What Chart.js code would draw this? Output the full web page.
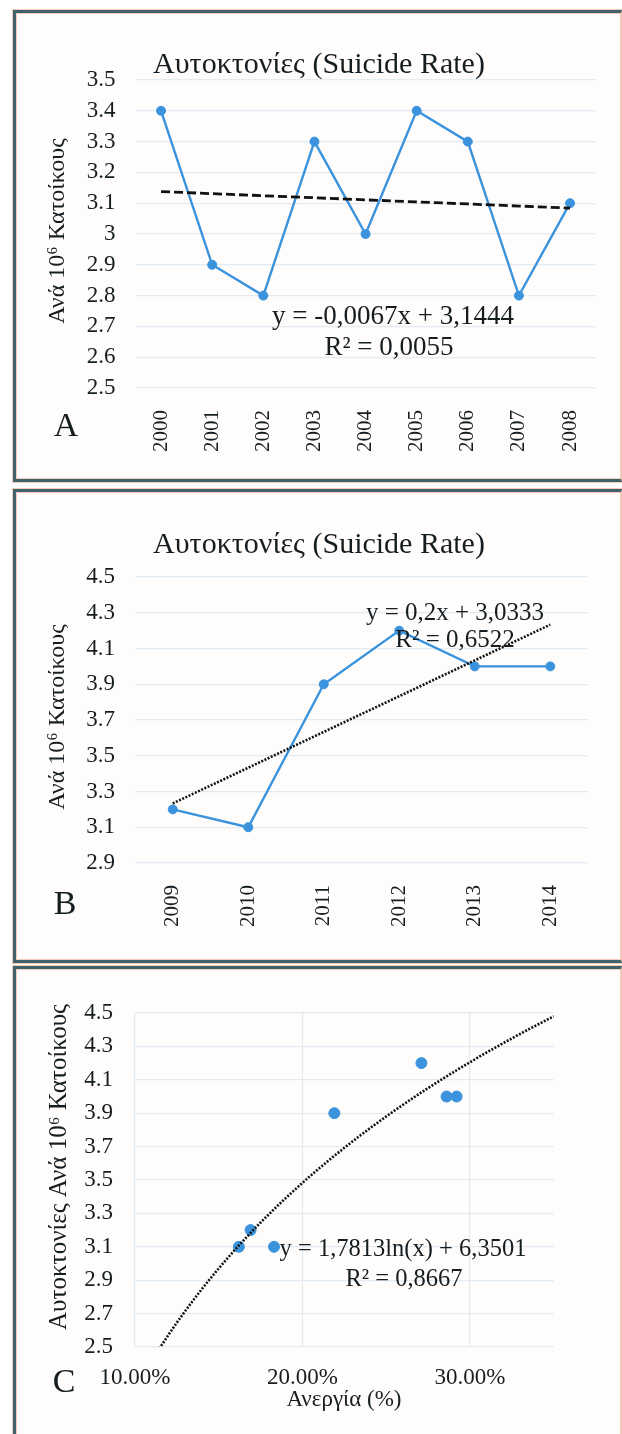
<!DOCTYPE html>
<html>
<head>
<meta charset="utf-8">
<script src="https://cdn.jsdelivr.net/npm/chart.js@4.4.1/dist/chart.umd.min.js"></script>
<style>
  body { margin: 0; background: #fff; }
  #page { position: relative; width: 622px; height: 1434px; overflow: hidden; }
  .frame {
    position: absolute; left: 13px; width: 609px; box-sizing: border-box;
    border: 3px solid #40626d; border-right: 1px solid #f1c7b6;
    background: #fffdfc;
    box-shadow: 0 0 0 1px #f4cbbb, inset 0 0 0 1px #f4cbbb;
  }
  canvas { position: absolute; left: 0; }
</style>
</head>
<body>
<div id="page">
  <div class="frame" style="top:10px;height:472px"></div>
  <div class="frame" style="top:489px;height:474px"></div>
  <div class="frame" style="top:966px;height:480px"></div>
  <canvas id="chartA" width="622" height="482" style="top:0"></canvas>
  <canvas id="chartB" width="622" height="480" style="top:482px"></canvas>
  <canvas id="chartC" width="622" height="472" style="top:962px"></canvas>
</div>
<script>
// suicide rate per 10^6 inhabitants, 2000-2008
const yearsA = ["2000", "2001", "2002", "2003", "2004", "2005", "2006", "2007", "2008"];
const rateA = [3.4, 2.9, 2.8, 3.3, 3.0, 3.4, 3.3, 2.8, 3.1];
const fitA = [-0.0067, 3.1444]; // slope, intercept

// 2009-2014
const yearsB = ["2009", "2010", "2011", "2012", "2013", "2014"];
const rateB = [3.2, 3.1, 3.9, 4.2, 4.0, 4.0];
const fitB = [0.2, 3.0333];

// suicide rate against unemployment
const unemploymentC = [0.162, 0.169, 0.183, 0.219, 0.271, 0.286, 0.292];
const rateC = [3.1, 3.2, 3.1, 3.9, 4.2, 4.0, 4.0];
const fitC = [1.7813, 6.3501]; // y = a*ln(x) + b
const fitRangeC = [0.11, 0.35];

const SERIF = "'Liberation Serif', 'Times New Roman', serif";
const INK = "#161d20";
const BLUE = "#3a93dc";
const GRID = "#e3ebf2";

Chart.defaults.font.family = SERIF;
Chart.defaults.color = INK;
Chart.defaults.animation = false;

// text drawn on top of the plot: titles, equations, panel letters
const notes = {
  id: "notes",
  afterDatasetsDraw(chart, args, opts) {
    const ctx = chart.ctx;
    for (const t of opts.items) {
      ctx.save();
      ctx.fillStyle = INK;
      ctx.font = t.size + "px " + SERIF;
      ctx.textAlign = "center";
      ctx.textBaseline = "middle";
      ctx.translate(t.x, t.y);
      if (t.rotate) ctx.rotate(-Math.PI / 2);
      ctx.fillText(t.text, 0, 0);
      ctx.restore();
    }
  }
};

function fixWidth(w) { return s => { s.width = w; }; }
function fixHeight(h) { return s => { s.height = h; }; }
const oneDecimal = v => String(+v.toFixed(1));

function lineChart(id, years, rates, fit, dash, yMin, yMax, step, pad, items) {
  const trend = years.map((_, i) => fit[0] * (i + 1) + fit[1]);
  return new Chart(document.getElementById(id), {
    type: "line",
    data: {
      labels: years,
      datasets: [
        {
          data: trend,
          borderColor: "#111",
          borderWidth: dash[0] > 4 ? 2.8 : 2.6,
          borderDash: dash,
          pointRadius: 0,
          fill: false
        },
        {
          data: rates,
          borderColor: BLUE,
          borderWidth: 2.4,
          pointRadius: 4.5,
          pointBackgroundColor: BLUE,
          pointBorderColor: BLUE,
          pointBorderWidth: 1,
          tension: 0
        }
      ]
    },
    options: {
      responsive: false,
      layout: { padding: pad },
      plugins: { legend: { display: false }, tooltip: { enabled: false }, notes: { items } },
      scales: {
        x: {
          offset: true,
          afterFit: fixHeight(80),
          grid: { display: false, offset: true },
          border: { display: false },
          ticks: { font: { size: 21 }, color: INK, minRotation: 90, maxRotation: 90, padding: 14, autoSkip: false }
        },
        y: {
          min: yMin, max: yMax,
          afterFit: fixWidth(120),
          grid: { color: GRID, lineWidth: 1.2, drawTicks: false },
          border: { display: false },
          ticks: { stepSize: step, font: { size: 23 }, color: INK, padding: 20, callback: oneDecimal }
        }
      }
    },
    plugins: [notes]
  });
}

lineChart("chartA", yearsA, rateA, fitA, [9, 4], 2.5, 3.5, 0.1,
  { left: 15.5, right: 26.4, top: 80, bottom: 14 },
  [
    { text: "Αυτοκτονίες (Suicide Rate)", x: 319, y: 65, size: 30 },
    { text: "Ανά 10⁶ Κατοίκους", x: 58, y: 231, size: 24, rotate: true },
    { text: "A", x: 66, y: 427, size: 34 },
    { text: "y = -0,0067x + 3,1444", x: 393, y: 317, size: 27 },
    { text: "R² = 0,0055", x: 389, y: 348, size: 27 }
  ]);

lineChart("chartB", yearsB, rateB, fitB, [2, 1.5], 2.9, 4.5, 0.2,
  { left: 15, right: 34, top: 95, bottom: 19 },
  [
    { text: "Αυτοκτονίες (Suicide Rate)", x: 319, y: 63, size: 30 },
    { text: "Ανά 10⁶ Κατοίκους", x: 58, y: 235, size: 24, rotate: true },
    { text: "B", x: 65, y: 423, size: 34 },
    { text: "y = 0,2x + 3,0333", x: 455, y: 131, size: 25 },
    { text: "R² = 0,6522", x: 455, y: 158, size: 25 }
  ]);

// logarithmic trend curve from the fitted coefficients
const trendC = [];
for (let k = 0; k <= 48; k++) {
  const x = fitRangeC[0] + (fitRangeC[1] - fitRangeC[0]) * k / 48;
  trendC.push({ x, y: fitC[0] * Math.log(x) + fitC[1] });
}

new Chart(document.getElementById("chartC"), {
  type: "scatter",
  data: {
    datasets: [
      {
        data: trendC,
        showLine: true,
        borderColor: "#111",
        borderWidth: 2.6,
        borderDash: [2, 1.5],
        pointRadius: 0
      },
      {
        data: unemploymentC.map((u, i) => ({ x: u, y: rateC[i] })),
        pointRadius: 5.5,
        pointBackgroundColor: BLUE,
        pointBorderColor: BLUE,
        pointBorderWidth: 1
      }
    ]
  },
  options: {
    responsive: false,
    layout: { padding: { left: 15, right: 68.25, top: 51, bottom: 27 } },
    plugins: {
      legend: { display: false }, tooltip: { enabled: false },
      notes: {
        items: [
          { text: "Αυτοκτονίες Ανά 10⁶ Κατοίκους", x: 59, y: 205, size: 25, rotate: true },
          { text: "Ανεργία (%)", x: 344, y: 438, size: 23 },
          { text: "C", x: 64, y: 421, size: 34 },
          { text: "y = 1,7813ln(x) + 6,3501", x: 403, y: 288, size: 24.5 },
          { text: "R² = 0,8667", x: 404, y: 318, size: 24.5 }
        ]
      }
    },
    scales: {
      x: {
        type: "linear", min: 0.1, max: 0.35,
        afterFit: fixHeight(60),
        afterBuildTicks: s => { s.ticks = [0.1, 0.2, 0.3].map(value => ({ value })); },
        grid: { color: GRID, lineWidth: 1.2, drawTicks: false },
        border: { display: false },
        ticks: { font: { size: 23 }, color: INK, padding: 17, callback: v => (v * 100).toFixed(2) + "%" }
      },
      y: {
        min: 2.5, max: 4.5,
        afterFit: fixWidth(120),
        grid: { color: GRID, lineWidth: 1.2, drawTicks: false },
        border: { display: false },
        ticks: { stepSize: 0.2, font: { size: 23 }, color: INK, padding: 22, callback: oneDecimal }
      }
    }
  },
  plugins: [notes]
});
</script>
</body>
</html>
